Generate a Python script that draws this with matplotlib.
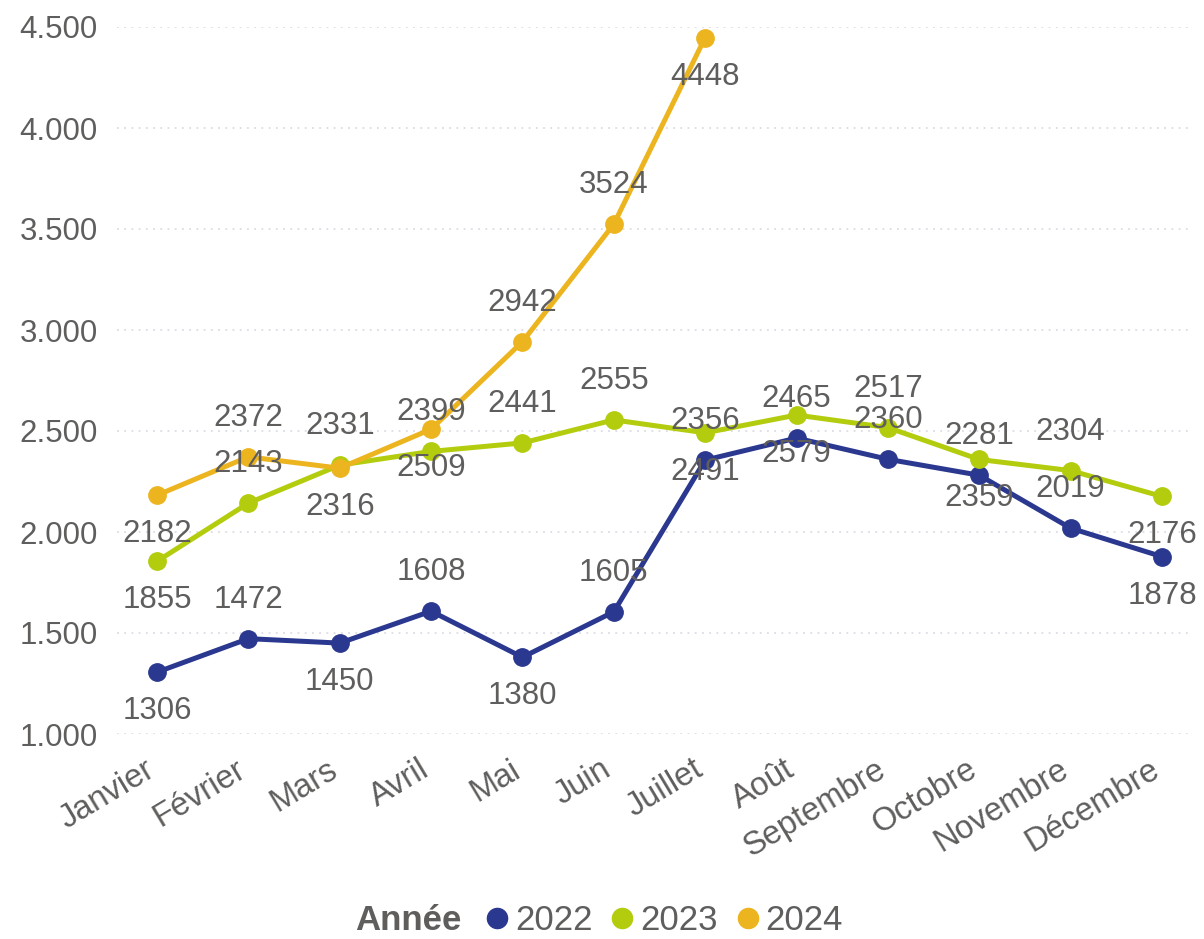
import matplotlib
matplotlib.use("Agg")
import matplotlib.pyplot as plt
from matplotlib.lines import Line2D
from matplotlib.ticker import FuncFormatter, MultipleLocator

months = ["Janvier", "Février", "Mars", "Avril", "Mai", "Juin", "Juillet",
          "Août", "Septembre", "Octobre", "Novembre", "Décembre"]
years = ["2022", "2023", "2024"]
v2022 = [1306, 1472, 1450, 1608, 1380, 1605, 2356, 2465, 2360, 2281, 2019, 1878]
v2023 = [1855, 2143, 2331, 2399, 2441, 2555, 2491, 2579, 2517, 2359, 2304, 2176]
v2024 = [2182, 2372, 2316, 2509, 2942, 3524, 4448]

# label placement: 1 = above the point, -1 = below
pos2022 = [-1, 1, -1, 1, -1, 1, 1, 1, 1, 1, 1, -1]
pos2023 = [-1, 1, 1, 1, 1, 1, -1, -1, 1, -1, 1, -1]
pos2024 = [-1, 1, -1, -1, 1, 1, -1]

colors = ["#2B388F", "#B3CC0D", "#ECB520"]
TEXT = "#605E5C"

plt.rcParams["font.family"] = ["Liberation Sans", "DejaVu Sans"]

W, H = 1204, 939
fig = plt.figure(figsize=(W / 100, H / 100), dpi=100)
ax = fig.add_axes([117 / W, (H - 734) / H, (1193 - 117) / W, (734 - 27) / H])

step = (1162 - 157) / 11
ax.set_xlim(-(157 - 117) / step, 11 + (1193 - 1162) / step)
ax.set_ylim(1000, 4500)

series = [(v2022, pos2022), (v2023, pos2023), (v2024, pos2024)]
for i, (vals, pos) in enumerate(series):
    xs = list(range(len(vals)))
    ax.plot(xs, vals, "-o", color=colors[i], lw=3.6, markersize=12.5,
            zorder=3 + i, clip_on=False, solid_joinstyle="round")

for i, (vals, pos) in enumerate(series):
    for x, (v, p) in enumerate(zip(vals, pos)):
        ax.annotate(str(v), (x, v), xytext=(0, 39 * p), textcoords="offset pixels",
                    ha="center", va="center", fontsize=22.5, color=TEXT, zorder=10,
                    annotation_clip=False)

ax.yaxis.set_major_locator(MultipleLocator(500))
ax.yaxis.set_major_formatter(FuncFormatter(lambda v, _: f"{v:,.0f}".replace(",", ".")))
ax.grid(axis="y", color="#DCDCE6", linestyle=(0, (1, 3)), lw=1.3)
ax.set_axisbelow(True)
for s in ax.spines.values():
    s.set_visible(False)

# month labels, rotated, top-right corner just left of each category
ax.set_xticks(range(len(months)))
ax.set_xticklabels([])
ax.tick_params(axis="x", length=0)
for i, m in enumerate(months):
    ax.annotate(m, (i, 0), xycoords=("data", "axes fraction"), xytext=(-13, -20),
                textcoords="offset pixels", rotation=31, ha="right", va="top",
                rotation_mode="anchor", fontsize=23.5, color=TEXT)
ax.tick_params(axis="y", length=0, pad=14, labelsize=22.5, labelcolor=TEXT)

# legend
ly = 1 - 921 / H
fig.text(355 / W, ly, "Année", fontsize=25, fontweight="bold", color=TEXT,
         va="center", ha="left")
handles = [Line2D([], [], marker="o", ls="", color=c, markersize=14.5) for c in colors]
leg = fig.legend(handles, years, loc="center left", bbox_to_anchor=(487 / W, ly),
                 ncol=3, frameon=False, fontsize=25, handletextpad=0.22,
                 columnspacing=0.55, handlelength=0.6, borderpad=0, borderaxespad=0)
for t in leg.get_texts():
    t.set_color(TEXT)

fig.savefig("out.png", dpi=100)
